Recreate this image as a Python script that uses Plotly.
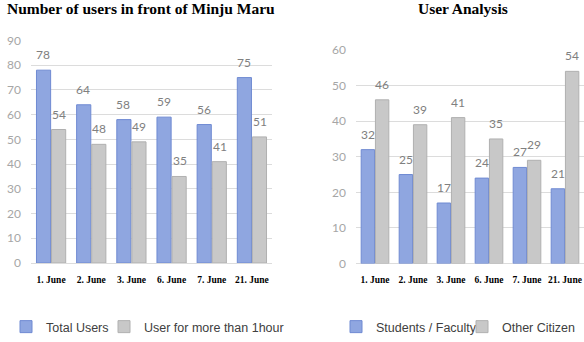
import plotly.graph_objects as go

dates = ["1. June", "2. June", "3. June", "6. June", "7. June", "21. June"]
total_users = [78, 64, 58, 59, 56, 75]
long_users = [54, 48, 49, 35, 41, 51]
students = [32, 25, 17, 24, 27, 21]
citizens = [46, 39, 41, 35, 29, 54]

left_ticks = [0, 10, 20, 30, 40, 50, 60, 70, 80, 90]
right_ticks = [0, 10, 20, 30, 40, 50, 60]

W, H = 584, 342
BLUE, BLUE_LINE = "#8fa6e0", "#6f8ad2"
GRAY, GRAY_LINE = "#c8c8c8", "#b0b0b0"
LABEL_COLOR = "#808080"
GRID = "#dcdcdc"

fig = go.Figure()

def bar(x, y, name, color, line, xa, ya, legend):
    return go.Bar(x=x, y=y, name=name, marker=dict(color=color, line=dict(color=line, width=1)),
                  xaxis=xa, yaxis=ya, legend=legend, showlegend=True)

fig.add_trace(bar(dates, total_users, "Total Users", BLUE, BLUE_LINE, "x", "y", "legend"))
fig.add_trace(bar(dates, long_users, "User for more than 1hour", GRAY, GRAY_LINE, "x", "y", "legend2"))
fig.add_trace(bar(dates, students, "Students / Faculty", BLUE, BLUE_LINE, "x2", "y2", "legend3"))
fig.add_trace(bar(dates, citizens, "Other Citizen", GRAY, GRAY_LINE, "x2", "y2", "legend4"))

def px_x(p):
    return p / W

def px_y(p):
    return (H - p) / H

annotations = []
def add_labels(series_list, xref, yref, offsets):
    for series, off in zip(series_list, offsets):
        for d, v in zip(dates, series):
            annotations.append(dict(x=d, y=v, xref=xref, yref=yref, text=str(v), showarrow=False,
                                    yanchor="bottom", yshift=6, xshift=off,
                                    font=dict(family="Lato", size=12, color=LABEL_COLOR)))

add_labels([total_users, long_users], "x", "y", [-8, 8])
add_labels([students, citizens], "x2", "y2", [-7, 7])

annotations.append(dict(text="<b>Number of users in front of Minju Maru</b>", x=px_x(141), y=px_y(8),
                        xref="paper", yref="paper", showarrow=False, xanchor="center", yanchor="middle",
                        font=dict(family="Liberation Serif", size=15.5, color="#000000")))
annotations.append(dict(text="<b>User Analysis</b>", x=px_x(463), y=px_y(8),
                        xref="paper", yref="paper", showarrow=False, xanchor="center", yanchor="middle",
                        font=dict(family="Liberation Serif", size=15.5, color="#000000")))

xcommon = dict(showgrid=False, showline=False, zeroline=False, ticks="", ticklabelstandoff=9,
               tickfont=dict(family="Liberation Serif", size=9.5, color="#000000"), tickangle=0,
               tickvals=dates, ticktext=["<b>%s</b>" % d for d in dates])
ycommon = dict(showgrid=True, gridcolor=GRID, gridwidth=1, zeroline=True, zerolinecolor=GRID,
               zerolinewidth=1, showline=False, ticks="", ticklabelstandoff=9,
               tickfont=dict(family="Lato", size=12, color="#a6a6a6"))

def leg(marker_center_px):
    return dict(orientation="h", x=(marker_center_px - 24) / W, y=px_y(327), xref="container", yref="container",
                xanchor="left", yanchor="middle",
                font=dict(family="Liberation Sans", size=12.5, color="#404040"),
                bgcolor="rgba(0,0,0,0)", borderwidth=0)

fig.update_layout(
    width=W, height=H, margin=dict(l=0, r=0, t=0, b=0, autoexpand=False),
    paper_bgcolor="white", plot_bgcolor="white", showlegend=True,
    barmode="group", bargap=0.25, bargroupgap=0.06,
    xaxis=dict(domain=[px_x(31), px_x(272)], anchor="y", **xcommon),
    yaxis=dict(domain=[px_y(263), px_y(40.5)], range=[0, 90], tickvals=left_ticks, anchor="x", **ycommon),
    xaxis2=dict(domain=[px_x(356), px_x(584)], anchor="y2", **xcommon),
    yaxis2=dict(domain=[px_y(263.5), px_y(50)], range=[0, 60], tickvals=right_ticks, anchor="x2", **ycommon),
    annotations=annotations,
    legend=leg(30), legend2=leg(128), legend3=leg(360), legend4=leg(486),
)

fig.write_html("out.html")
